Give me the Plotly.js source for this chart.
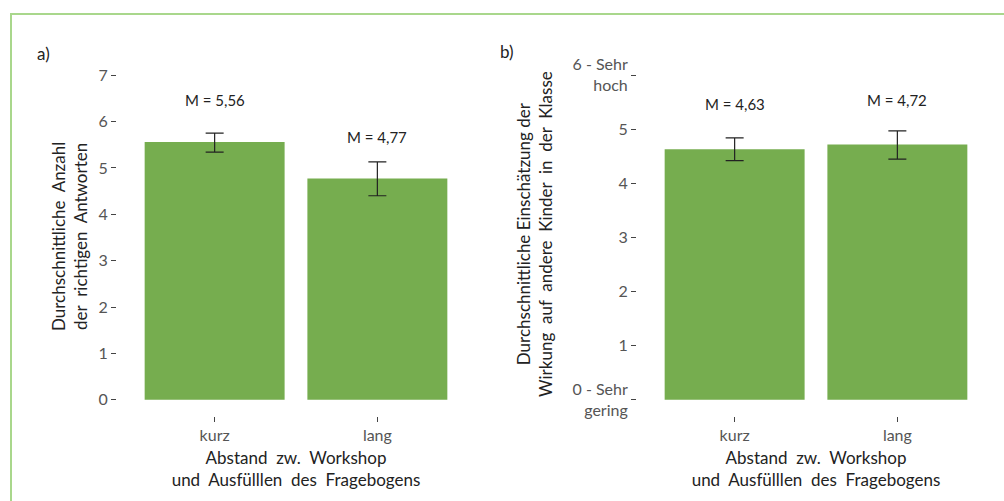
<!DOCTYPE html>
<html><head><meta charset="utf-8">
<script src="https://cdn.plot.ly/plotly-3.0.1.min.js"></script>
<style>
html,body{margin:0;padding:0;background:#fff;}
#wrap{position:relative;width:1004px;height:501px;overflow:hidden;}
#frame{position:absolute;left:10px;top:13px;width:1100px;height:600px;border-top:2px solid #a9d78c;border-left:2px solid #a9d78c;pointer-events:none;}
#chart{position:absolute;left:0;top:0;width:1004px;height:501px;}
</style></head>
<body><div id="wrap"><div id="chart"></div><div id="frame"></div></div>
<script>
const categories = ['kurz', 'lang'];
// panel a: average number of correct answers
const meansA = [5.56, 4.77];
const errPlusA = [0.19, 0.36];
const errMinusA = [0.22, 0.37];
// panel b: average rating of impact on other children
const meansB = [4.63, 4.72];
const errPlusB = [0.21, 0.25];
const errMinusB = [0.21, 0.27];
const tickValsA = [0, 1, 2, 3, 4, 5, 6, 7];
const tickValsB = [0, 1, 2, 3, 4, 5, 6];
const tickTextB = ['0 - Sehr<br>gering', '1', '2', '3', '4', '5', '6 - Sehr<br>hoch'];
const xTitleText = 'Abstand&nbsp;&nbsp;zw.&nbsp;&nbsp;Workshop<br>und&nbsp;&nbsp;Ausfülllen&nbsp;&nbsp;des&nbsp;&nbsp;Fragebogens';
const yTitleA = 'Durchschnittliche&nbsp;&nbsp;Anzahl<br>der&nbsp;&nbsp;richtigen&nbsp;&nbsp;Antworten';
const yTitleB = 'Durchschnittliche Einschätzung der<br>Wirkung&nbsp;&nbsp;auf&nbsp;&nbsp;andere&nbsp;&nbsp;Kinder&nbsp;&nbsp;in&nbsp;&nbsp;der&nbsp;&nbsp;Klasse';

const FONT = 'Lato, "Open Sans", sans-serif';
const barColor = '#76ad4f';
const fmt = v => 'M = ' + v.toFixed(2).replace('.', ',');

const traces = [
  {type:'bar', x:categories, y:meansA, xaxis:'x', yaxis:'y', width:0.86,
   marker:{color:barColor},
   error_y:{type:'data', symmetric:false, array:errPlusA, arrayminus:errMinusA, color:'#222', thickness:1.2, width:9},
   hoverinfo:'none'},
  {type:'bar', x:categories, y:meansB, xaxis:'x2', yaxis:'y2', width:0.86,
   marker:{color:barColor},
   error_y:{type:'data', symmetric:false, array:errPlusB, arrayminus:errMinusB, color:'#222', thickness:1.2, width:9},
   hoverinfo:'none'}
];

const annotations = [];
categories.forEach((c, i) => {
  annotations.push({xref:'x', yref:'y', x:c, y:meansA[i] + 0.9, text:fmt(meansA[i]), showarrow:false, font:{size:15, color:'#222', family:FONT}});
  annotations.push({xref:'x2', yref:'y2', x:c, y:meansB[i] + 0.83, text:fmt(meansB[i]), showarrow:false, font:{size:15, color:'#222', family:FONT}});
});
annotations.push({xref:'paper', yref:'paper', x:43/1004, y:1-53/501, text:'a)', showarrow:false, xanchor:'center', yanchor:'middle', font:{size:17, color:'#222', family:FONT}});
annotations.push({xref:'paper', yref:'paper', x:507/1004, y:1-52/501, text:'b)', showarrow:false, xanchor:'center', yanchor:'middle', font:{size:17, color:'#222', family:FONT}});
annotations.push({xref:'paper', yref:'paper', x:69/1004, y:1-237/501, text:yTitleA, textangle:-90, showarrow:false, xanchor:'center', yanchor:'middle', font:{size:17, color:'#222', family:FONT}});
annotations.push({xref:'paper', yref:'paper', x:534/1004, y:1-234/501, text:yTitleB, textangle:-90, showarrow:false, xanchor:'center', yanchor:'middle', font:{size:17, color:'#222', family:FONT}});

const xCommon = {type:'category', range:[-0.6, 1.6], showgrid:false, zeroline:false, showline:false,
  ticks:'outside', ticklen:5, tickwidth:1, tickcolor:'#444',
  tickfont:{size:16, color:'#555', family:FONT}};
const yCommon = {showgrid:false, zeroline:false, showline:false,
  ticks:'outside', ticklen:5, tickwidth:1, tickcolor:'#444',
  tickfont:{size:16, color:'#555', family:FONT}};
const xTitle = {text:xTitleText, font:{size:17, color:'#222', family:FONT}, standoff:8};

const layout = {
  width:1004, height:501, margin:{l:0, r:0, t:0, b:0},
  paper_bgcolor:'#fff', plot_bgcolor:'#fff', showlegend:false,
  font:{family:FONT},
  xaxis: Object.assign({}, xCommon, {domain:[117/1004, 475/1004], anchor:'y', title:xTitle}),
  xaxis2: Object.assign({}, xCommon, {domain:[637/1004, 995/1004], anchor:'y2', title:xTitle}),
  yaxis: Object.assign({}, yCommon, {domain:[1-416/501, 1-59/501], anchor:'x', range:[-0.35, 7.35],
    tickmode:'array', tickvals:tickValsA}),
  yaxis2: Object.assign({}, yCommon, {domain:[1-416/501, 1-59/501], anchor:'x2', range:[-0.3, 6.3],
    tickmode:'array', tickvals:tickValsB, ticktext:tickTextB}),
  annotations: annotations
};

Plotly.newPlot('chart', traces, layout, {staticPlot:true, displayModeBar:false});
</script>
</body></html>
